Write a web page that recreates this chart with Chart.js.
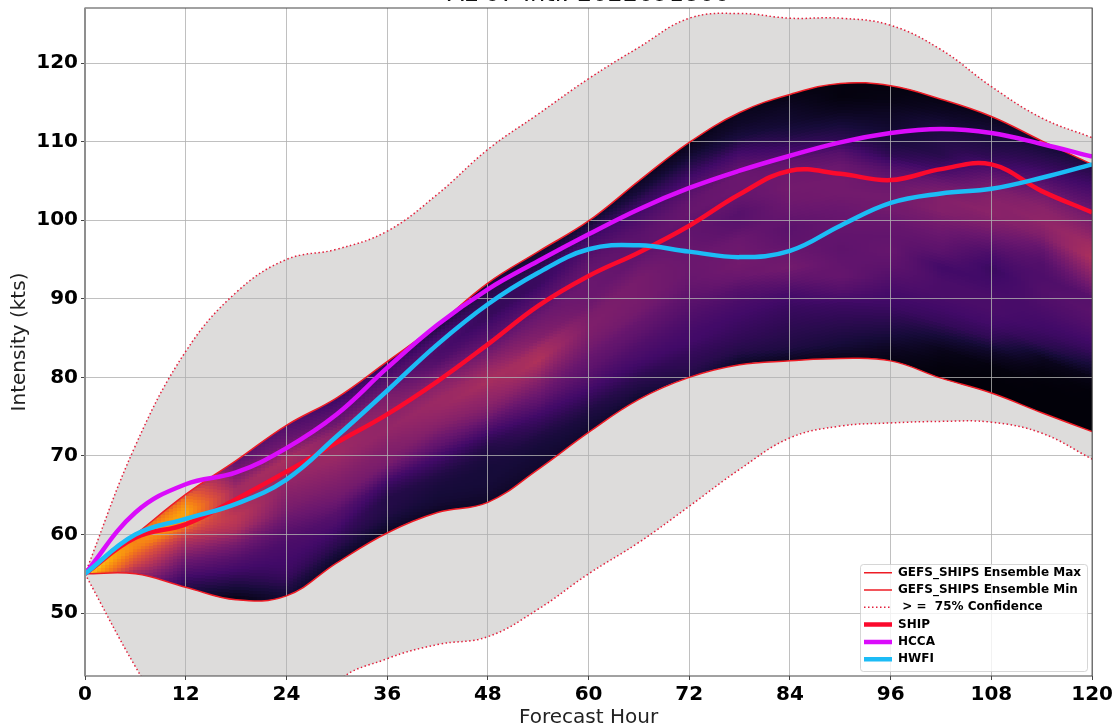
<!DOCTYPE html>
<html>
<head>
<meta charset="utf-8">
<title>AL 07 Intl: 2022091800</title>
<script src="https://cdn.jsdelivr.net/npm/chart.js@4"></script>
<style>
html, body { margin: 0; padding: 0; background: #ffffff; overflow: hidden; }
canvas { display: block; }
</style>
</head>
<body>
<canvas id="intensityChart" width="1116" height="725"></canvas>
<script>
const hours = [0, 6, 12, 18, 24, 30, 36, 42, 48, 54, 60, 66, 72, 78, 84, 90, 96, 102, 108, 114, 120];
const xTicks = [0, 12, 24, 36, 48, 60, 72, 84, 96, 108, 120];
const yTicks = [50, 60, 70, 80, 90, 100, 110, 120];

const ensembleMax = [55, 60, 65.1, 69.4, 73.9, 77.4, 82, 86.7, 92, 96, 99.9, 105, 109.9, 113.7, 116, 117.4, 117.1, 115.4, 113.2, 110.1, 107.1];
const ensembleMin = [55, 55, 53.3, 51.7, 52.2, 56.4, 60.2, 62.8, 64.1, 68.3, 73, 77.2, 80, 81.6, 82.1, 82.4, 82.1, 79.9, 78, 75.5, 73.1];
const confUpper = [55, 71.3, 83.3, 90.8, 95, 96.3, 98.6, 103.3, 109, 113.5, 118, 122, 125.7, 126.3, 125.7, 125.7, 124.8, 121.7, 117, 113, 110.5];
const confLower = [55, 43.2, 33, 28, 29, 41, 44.2, 46, 47, 50.5, 55, 59, 63.6, 68.3, 72.3, 73.8, 74.2, 74.4, 74.3, 72.9, 69.6];
const ship = [55, 59.6, 61.3, 64.5, 68, 71.7, 75.3, 79.5, 84.2, 89.1, 92.9, 95.9, 99.3, 103.3, 106.3, 105.9, 105.1, 106.5, 107.1, 103.7, 101];
const hcca = [55, 62.8, 66.4, 67.9, 71, 75.3, 81.2, 86.7, 91.2, 94.8, 98.2, 101.4, 104.1, 106.3, 108.2, 109.9, 111.1, 111.6, 111.1, 109.7, 108.1];
const hwfi = [55, 60, 62, 63.9, 67, 72.5, 78.3, 84.2, 89.3, 93.3, 96.3, 96.8, 96, 95.3, 96.1, 99.3, 102.2, 103.4, 104, 105.4, 107.1];

// ensemble density, one row per forecast hour, bottom (min) to top (max) of the envelope
const density = [
    [.88, .88, .88, .88, .88, .88, .88, .88, .88, .88, .88, .88, .88, .88, .88, .88, .88, .88, .88, .88, .88],
    [.42, .45, .48, .50, .53, .56, .58, .60, .62, .64, .66, .68, .70, .72, .72, .73, .73, .72, .72, .70, .70],
    [.14, .16, .19, .22, .25, .28, .31, .35, .39, .43, .47, .53, .60, .68, .74, .79, .80, .78, .74, .70, .60],
    [.03, .07, .11, .15, .19, .22, .25, .29, .33, .39, .46, .49, .50, .47, .45, .44, .43, .38, .34, .30, .27],
    [.10, .13, .17, .19, .20, .21, .22, .24, .27, .30, .33, .35, .37, .39, .41, .43, .45, .38, .30, .27, .24],
    [.07, .10, .14, .17, .20, .23, .25, .29, .32, .34, .36, .38, .40, .42, .42, .40, .37, .30, .26, .22, .18],
    [.06, .09, .12, .13, .13, .16, .20, .27, .33, .35, .36, .38, .40, .39, .38, .36, .34, .28, .24, .20, .16],
    [.06, .09, .10, .11, .13, .17, .21, .27, .31, .36, .39, .41, .42, .39, .36, .30, .24, .22, .24, .18, .11],
    [.07, .09, .10, .10, .11, .13, .18, .25, .33, .38, .41, .45, .42, .36, .30, .25, .21, .17, .17, .14, .10],
    [.08, .09, .10, .12, .16, .20, .26, .31, .36, .42, .47, .44, .36, .33, .30, .26, .22, .18, .18, .12, .08],
    [.08, .10, .12, .16, .20, .24, .27, .29, .32, .34, .35, .34, .31, .30, .30, .29, .27, .24, .21, .15, .08],
    [.08, .12, .15, .19, .22, .24, .27, .29, .32, .33, .33, .33, .31, .28, .27, .26, .24, .21, .17, .10, .06],
    [.13, .15, .17, .20, .21, .23, .25, .27, .29, .30, .30, .29, .28, .27, .29, .28, .25, .20, .14, .08, .04],
    [.06, .13, .16, .18, .20, .22, .25, .30, .32, .31, .30, .26, .25, .28, .30, .30, .25, .19, .11, .07, .05],
    [.05, .12, .14, .16, .18, .21, .27, .32, .30, .27, .26, .29, .31, .32, .31, .27, .19, .12, .08, .06, .03],
    [.04, .10, .13, .16, .19, .25, .29, .28, .27, .28, .29, .30, .32, .32, .30, .25, .15, .10, .05, .02, .02],
    [.03, .06, .11, .15, .19, .21, .24, .27, .29, .28, .29, .32, .32, .29, .24, .15, .11, .08, .06, .03, .02],
    [.01, .02, .04, .10, .17, .20, .22, .22, .20, .26, .29, .32, .36, .36, .30, .20, .14, .13, .11, .06, .03],
    [.01, .01, .02, .07, .16, .20, .22, .22, .20, .18, .22, .28, .34, .38, .37, .33, .25, .16, .12, .09, .05],
    [.01, .01, .01, .02, .05, .15, .19, .21, .23, .24, .23, .24, .28, .35, .39, .38, .33, .25, .18, .13, .08],
    [.01, .01, .01, .01, .03, .10, .17, .21, .24, .26, .25, .33, .40, .46, .43, .37, .33, .27, .22, .17, .12]
];

const inferno = [[0, 0, 4], [22, 11, 57], [66, 10, 104], [106, 23, 110], [147, 38, 103], [188, 55, 84], [221, 81, 58], [243, 120, 25], [252, 165, 10], [246, 215, 70], [252, 255, 164]];

function heatColor(v) {
    const p = Math.min(Math.max(v, 0), 1) * 10;
    const i = Math.min(Math.floor(p), 9);
    const t = p - i;
    const c = [0, 1, 2].map(k => Math.round(inferno[i][k] + (inferno[i + 1][k] - inferno[i][k]) * t));
    return 'rgb(' + c.join(',') + ')';
}

function lookup(arr, hour) {
    const i = Math.min(Math.floor(hour / 6), arr.length - 2);
    const t = hour / 6 - i;
    return arr[i] + (arr[i + 1] - arr[i]) * t;
}

function densityAt(hour, frac) {
    const i = Math.min(Math.floor(hour / 6), density.length - 2);
    const t = hour / 6 - i;
    const r = Math.min(Math.max(frac, 0), 1) * 20;
    const j = Math.min(Math.floor(r), 19);
    const s = r - j;
    const a = density[i][j] + (density[i][j + 1] - density[i][j]) * s;
    const b = density[i + 1][j] + (density[i + 1][j + 1] - density[i + 1][j]) * s;
    return a + (b - a) * t;
}

// the heat cells go under the grid, so this runs in beforeDraw, right after the filler
const heatPlugin = {
    id: 'heat',
    beforeDraw(chart) {
        const ctx = chart.ctx, area = chart.chartArea, x = chart.scales.x, y = chart.scales.y;
        const top = chart.getDatasetMeta(0).dataset, bottom = chart.getDatasetMeta(1).dataset;
        top.updateControlPoints(area, 'x');
        bottom.updateControlPoints(area, 'x');
        ctx.save();
        ctx.beginPath();
        ctx.rect(area.left, area.top, area.width, area.height);
        ctx.clip();
        ctx.beginPath();
        top.path(ctx);
        const pts = bottom.points;
        ctx.lineTo(pts[pts.length - 1].x, pts[pts.length - 1].y);
        for (let i = pts.length - 1; i > 0; i--) {
            ctx.bezierCurveTo(pts[i].cp1x, pts[i].cp1y, pts[i - 1].cp2x, pts[i - 1].cp2y, pts[i - 1].x, pts[i - 1].y);
        }
        ctx.closePath();
        ctx.clip();
        for (let px = Math.floor(area.left); px < area.right; px += 4) {
            const hour = Math.min(Math.max(x.getValueForPixel(px + 2), 0), 120);
            const lo = lookup(ensembleMin, hour), hi = lookup(ensembleMax, hour);
            for (let py = Math.floor(y.getPixelForValue(hi)) - 9; py < y.getPixelForValue(lo) + 9; py += 3) {
                ctx.fillStyle = heatColor(densityAt(hour, (y.getValueForPixel(py + 1.5) - lo) / (hi - lo)));
                ctx.fillRect(px, py, 4, 3);
            }
        }
        ctx.restore();
    }
};

const framePlugin = {
    id: 'frame',
    afterLayout(chart) {
        // move the legend inside the plot, lower right, and cut the title off at the page top
        const legend = chart.legend;
        legend.left = 858.7;
        legend.top = 561.4;
        legend.right = legend.left + legend.width;
        legend.bottom = legend.top + legend.height;
        if (!legend.drawLate) {
            legend.drawLate = legend.draw;
            legend.draw = function () {};
        }
        chart.titleBlock.top = 0;
    },
    beforeDatasetsDraw(chart) {
        const ctx = chart.ctx;
        ctx.save();
        ctx.beginPath();
        ctx.roundRect(860.5, 564.5, 227, 107, 3);
        ctx.fillStyle = 'rgba(255,255,255,0.8)';
        ctx.fill();
        ctx.strokeStyle = 'rgba(204,204,204,0.8)';
        ctx.lineWidth = 1;
        ctx.stroke();
        ctx.restore();
        chart.legend.drawLate();
    },
    afterDatasetsDraw(chart) {
        const ctx = chart.ctx, a = chart.chartArea;
        ctx.save();
        ctx.strokeStyle = '#444444';
        ctx.lineWidth = 1;
        ctx.strokeRect(a.left, a.top, a.width, a.height);
        ctx.strokeStyle = '#8f8f8f';
        ctx.lineWidth = 2;
        ctx.beginPath();
        ctx.moveTo(a.left, a.top);
        ctx.lineTo(a.left, a.bottom);
        ctx.stroke();
        ctx.restore();
    }
};

const ctx = document.getElementById('intensityChart').getContext('2d');

const intensity_chart = new Chart(ctx, {
    type: 'line',
    data: {
        labels: hours,
        datasets: [
            { label: 'GEFS_SHIPS Ensemble Max', data: ensembleMax, borderColor: '#ee1c25', borderWidth: 1.5, order: 4 },
            { label: 'GEFS_SHIPS Ensemble Min', data: ensembleMin, borderColor: '#ee1c25', borderWidth: 1.5, order: 5 },
            { label: ' > =  75% Confidence', data: confUpper, borderColor: '#e3203c', borderWidth: 1.5, borderDash: [1.5, 2.5], order: 6, fill: '+1', backgroundColor: '#dddcdb' },
            { label: '', data: confLower, borderColor: '#e3203c', borderWidth: 1.5, borderDash: [1.5, 2.5], order: 7 },
            { label: 'SHIP', data: ship, borderColor: '#fb0a2d', borderWidth: 4.5, order: 3 },
            { label: 'HCCA', data: hcca, borderColor: '#da0cfb', borderWidth: 4.5, order: 2 },
            { label: 'HWFI', data: hwfi, borderColor: '#1cbcf6', borderWidth: 4.5, order: 1 }
        ]
    },
    options: {
        responsive: false,
        animation: false,
        devicePixelRatio: 1,
        layout: { padding: { right: 23 } },
        elements: {
            point: { radius: 0 },
            line: { tension: 0.4, fill: false }
        },
        plugins: {
            filler: { drawTime: 'beforeDraw' },
            tooltip: { enabled: false },
            title: {
                display: true,
                fullSize: false,
                text: 'AL 07 Intl: 2022091800',
                color: '#111111',
                font: { family: 'DejaVu Sans', size: 24, weight: 'normal' },
                padding: { top: -19.5, bottom: -1.3 }
            },
            legend: {
                position: 'chartArea',
                align: 'start',
                labels: {
                    color: '#000000',
                    font: { family: 'DejaVu Sans', size: 12, weight: 'bold' },
                    usePointStyle: true,
                    pointStyle: 'line',
                    pointStyleWidth: 28,
                    padding: 5.3,
                    generateLabels: chart => {
                        const items = Chart.defaults.plugins.legend.labels.generateLabels(chart);
                        items.forEach(item => {
                            const ds = chart.data.datasets[item.datasetIndex];
                            item.lineDash = ds.borderDash || [];
                            item.lineWidth = ds.borderWidth;
                        });
                        return items;
                    },
                    sort: (a, b) => a.datasetIndex - b.datasetIndex,
                    filter: item => item.text !== ''
                }
            }
        },
        scales: {
            x: {
                type: 'linear',
                min: 0,
                max: 120,
                afterBuildTicks: scale => { scale.ticks = xTicks.map(v => ({ value: v })); },
                afterFit: scale => { scale.height = 49; },
                grid: { color: 'rgba(176,176,176,0.8)', lineWidth: 1, tickLength: 4, tickColor: '#444444' },
                border: { display: false },
                ticks: { color: '#000000', font: { family: 'DejaVu Sans', size: 20, weight: 'bold' }, padding: 3, maxRotation: 0, autoSkip: false },
                title: { display: true, text: 'Forecast Hour', color: '#222222', font: { family: 'DejaVu Sans', size: 20 }, padding: { top: 0, bottom: -5 } }
            },
            y: {
                type: 'linear',
                min: 42,
                max: 127,
                afterBuildTicks: scale => { scale.ticks = yTicks.map(v => ({ value: v })); },
                afterFit: scale => { scale.width = 85; scale.paddingTop = 0; scale.paddingBottom = 0; },
                grid: { color: 'rgba(176,176,176,0.8)', lineWidth: 1, tickLength: 4, tickColor: '#444444' },
                border: { display: false },
                ticks: { color: '#000000', font: { family: 'DejaVu Sans', size: 20, weight: 'bold' }, padding: 3, autoSkip: false },
                title: { display: true, text: 'Intensity (kts)', color: '#222222', font: { family: 'DejaVu Sans', size: 20 }, padding: { top: 8, bottom: 0 } }
            }
        }
    },
    plugins: [heatPlugin, framePlugin]
});
</script>
</body>
</html>
